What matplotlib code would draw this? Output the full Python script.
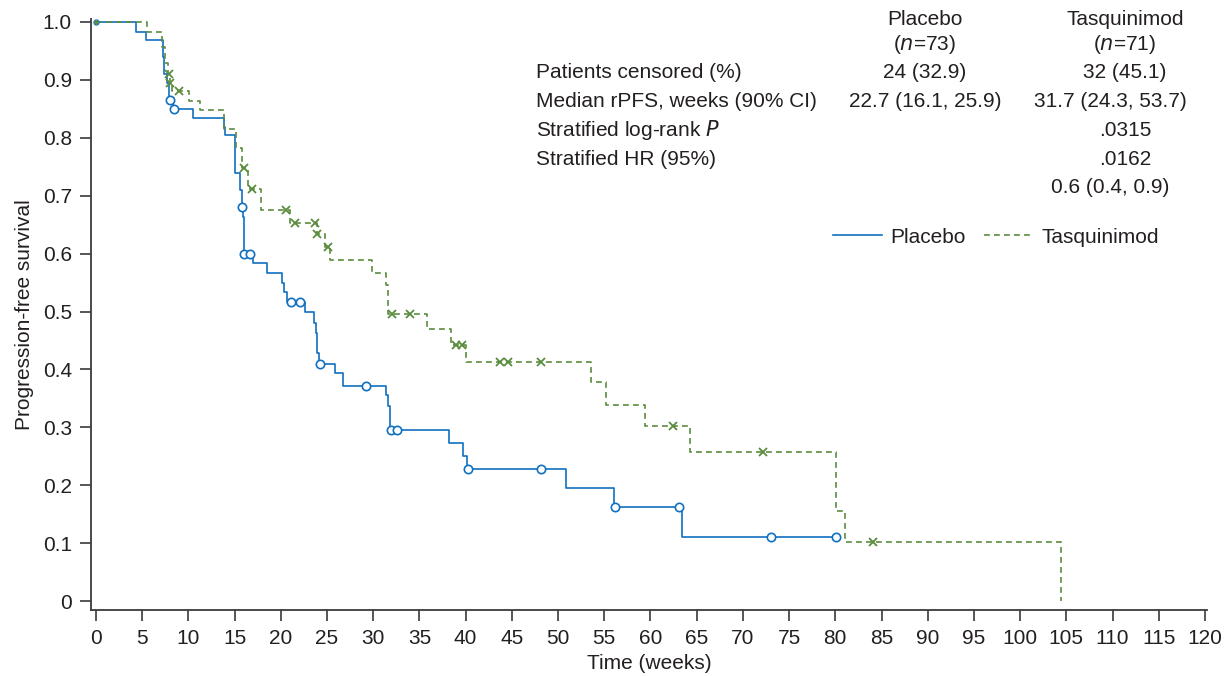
import numpy as np
import matplotlib
matplotlib.use("Agg")
import matplotlib.pyplot as plt

plt.rcParams["font.family"] = ["Liberation Sans", "DejaVu Sans"]
plt.rcParams["font.size"] = 15

TEXTO = "#231f20"
AZUL = "#1170c0"
VERDE = "#5b8c3e"

# placebo: tempos (semanas) em que a curva muda e sobrevida depois do degrau
placebo_t = [0, 4.3, 5.4, 7.2, 7.4, 7.7, 7.9, 8.3, 10.5, 13.8, 14.0, 15.0, 15.6, 15.8,
             15.9, 16.0, 17.0, 18.5, 20.1, 20.3, 20.7, 22.6, 23.6, 23.8, 23.9, 24.1,
             25.9, 26.7, 31.4, 31.6, 31.8, 38.2, 39.7, 40.1, 50.9, 56.0, 63.4, 80.1]
placebo_s = [1.0, 0.983, 0.969, 0.940, 0.911, 0.895, 0.865, 0.850, 0.834, 0.819, 0.804,
             0.740, 0.710, 0.681, 0.664, 0.600, 0.584, 0.567, 0.550, 0.534, 0.516, 0.500,
             0.481, 0.463, 0.428, 0.409, 0.393, 0.372, 0.356, 0.336, 0.296, 0.273, 0.250,
             0.228, 0.196, 0.163, 0.110, 0.110]
placebo_cens_t = [8.0, 8.4, 15.8, 16.05, 16.7, 21.1, 22.1, 24.2, 29.2, 31.9, 32.6,
                  40.2, 48.1, 56.2, 63.1, 73.0, 80.1]
placebo_cens_s = [0.865, 0.850, 0.681, 0.600, 0.600, 0.516, 0.516, 0.409, 0.372,
                  0.296, 0.296, 0.228, 0.228, 0.163, 0.163, 0.110, 0.110]

# tasquinimod
tasq_t = [0, 5.5, 7.1, 7.5, 7.8, 8.0, 8.2, 10.1, 11.3, 13.8, 15.2, 15.8, 16.5, 17.9,
          21.0, 23.9, 24.8, 25.3, 29.9, 31.4, 31.6, 35.8, 38.4, 40.0, 53.6, 55.2, 59.4,
          64.3, 80.1, 81.1, 104.4, 104.4]
tasq_s = [1.0, 0.983, 0.957, 0.929, 0.911, 0.895, 0.880, 0.864, 0.848, 0.816, 0.782,
          0.747, 0.712, 0.675, 0.653, 0.634, 0.612, 0.589, 0.566, 0.546, 0.496, 0.469,
          0.443, 0.413, 0.378, 0.339, 0.302, 0.258, 0.156, 0.1025, 0.0, 0.0]
tasq_cens_t = [7.85, 8.0, 9.0, 16.0, 16.9, 20.6, 21.5, 23.7, 23.95, 25.1, 32.0, 34.0,
               38.95, 39.6, 43.7, 44.6, 48.1, 62.4, 72.2, 84.1]
tasq_cens_s = [0.911, 0.895, 0.880, 0.747, 0.712, 0.675, 0.653, 0.653, 0.634, 0.612,
               0.496, 0.496, 0.443, 0.443, 0.413, 0.413, 0.413, 0.302, 0.258, 0.1025]

# tabela
colunas = ["Placebo\n($n$=73)", "Tasquinimod\n($n$=71)"]
linhas = ["Patients censored (%)", "Median rPFS, weeks (90% CI)",
          "Stratified log-rank $P$", "Stratified HR (95%)", ""]
valores_placebo = ["24 (32.9)", "22.7 (16.1, 25.9)", "", "", ""]
valores_tasq = ["32 (45.1)", "31.7 (24.3, 53.7)", ".0315", ".0162", "0.6 (0.4, 0.9)"]

W, H = 1224, 676
fig = plt.figure(figsize=(W / 100, H / 100), dpi=100)
ax = fig.add_axes([91.4 / W, 1 - 610 / H, (1206.8 - 91.4) / W, (610 - 19.1) / H])

ax.step(placebo_t, placebo_s, where="post", color=AZUL, lw=1.2, label="Placebo")
ax.step(tasq_t, tasq_s, where="post", color=VERDE, lw=1.2, dashes=(3.5, 2.5),
        label="Tasquinimod")
ax.plot(placebo_cens_t, placebo_cens_s, ls="none", marker="o", ms=6, mfc="white",
        mec=AZUL, mew=1.2, clip_on=False, zorder=3)
ax.plot(tasq_cens_t, tasq_cens_s, ls="none", marker="x", ms=6, mec=VERDE, mew=1.3,
        clip_on=False, zorder=4)
# marcas pequenas no tempo zero
ax.plot([placebo_t[0]], [placebo_s[0]], ls="none", marker="o", ms=3.5, mfc="white",
        mec=AZUL, mew=1.0, clip_on=False, zorder=3)
ax.plot([tasq_t[0]], [tasq_s[0]], ls="none", marker="x", ms=3.5, mec=VERDE, mew=1.0,
        clip_on=False, zorder=4)

ax.set_xlim(-0.5, 120.2)
ax.set_ylim(-0.0155, 1.005)
ax.set_xticks(np.arange(0, 121, 5))
ax.set_yticks(np.arange(0, 1.01, 0.1))
ax.set_yticklabels(["0"] + [f"{v:.1f}" for v in np.arange(0.1, 1.01, 0.1)])
for lado in ["top", "right"]:
    ax.spines[lado].set_visible(False)
for lado in ["left", "bottom"]:
    ax.spines[lado].set_color("#3a3a3a")
    ax.spines[lado].set_linewidth(1.3)
ax.tick_params(colors="#3a3a3a", labelcolor=TEXTO, length=8, width=1.2, pad=6)
ax.set_xlabel("Time (weeks)", color=TEXTO, labelpad=4)
ax.set_ylabel("Progression-free survival", color=TEXTO, labelpad=6)

# tabela de resultados
x_rot, x_pla, x_tas = 536 / W, 925 / W, 1125 / W
x_tas_largo = 1110 / W
for texto, xc in zip(colunas, [x_pla, x_tas]):
    fig.text(xc, 1 - 33 / H, texto, ha="center", va="center", color=TEXTO,
             linespacing=1.2)
for i, (rot, vp, vt) in enumerate(zip(linhas, valores_placebo, valores_tasq)):
    y = 1 - (73 + 28.7 * i) / H
    fig.text(x_rot, y, rot, ha="left", va="center", color=TEXTO)
    fig.text(x_pla, y, vp, ha="center", va="center", color=TEXTO)
    fig.text(x_tas_largo if len(vt) > 12 else x_tas, y, vt, ha="center", va="center",
             color=TEXTO)

ax.legend(loc="center left", bbox_to_anchor=(823 / W, 1 - 237 / H),
          bbox_transform=fig.transFigure, ncol=2, frameon=False, borderpad=0,
          handlelength=2.35, handletextpad=0.38, columnspacing=0.9, labelcolor=TEXTO)

fig.savefig("out.png", dpi=100)
